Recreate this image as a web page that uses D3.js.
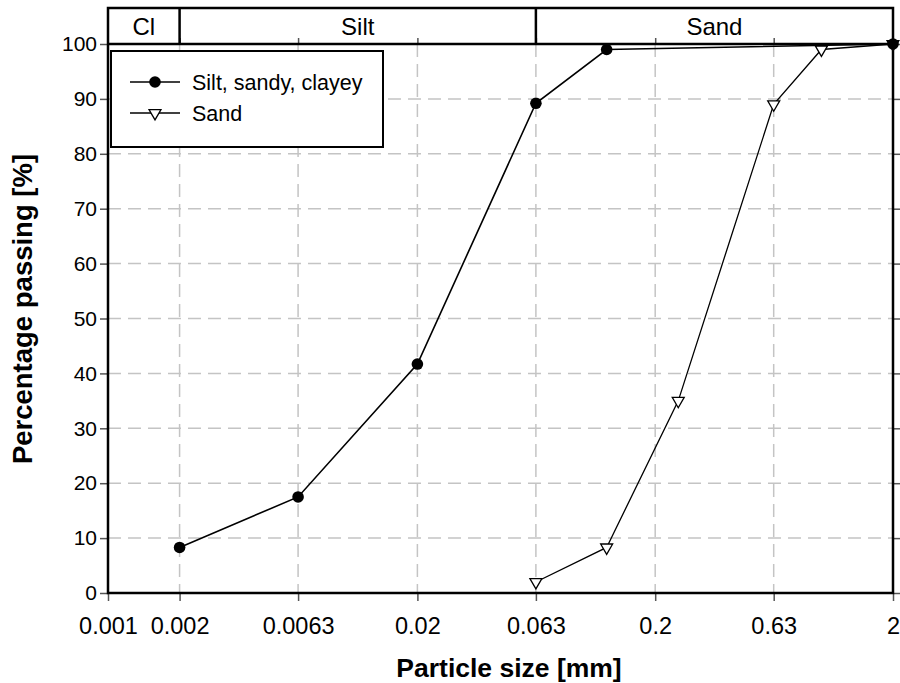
<!DOCTYPE html>
<html>
<head>
<meta charset="utf-8">
<script src="https://cdn.jsdelivr.net/npm/d3@7/dist/d3.min.js"></script>
<style>
  html, body { margin: 0; padding: 0; background: #fff; }
  svg { display: block; font-family: "Liberation Sans", Arial, sans-serif; }
</style>
</head>
<body>
<svg id="chart" width="900" height="683"></svg>
<script>
// Grain-size distribution curves (percentage passing vs particle size)
const xTicks = [0.001, 0.002, 0.0063, 0.02, 0.063, 0.2, 0.63, 2];
const xTickLabels = ["0.001", "0.002", "0.0063", "0.02", "0.063", "0.2", "0.63", "2"];
const yTicks = [0, 10, 20, 30, 40, 50, 60, 70, 80, 90, 100];

const siltSizes = [0.002, 0.0063, 0.02, 0.063, 0.125, 2];
const siltPassing = [8.3, 17.5, 41.7, 89.2, 99, 100];

const sandSizes = [0.063, 0.125, 0.25, 0.63, 1.0, 2];
const sandPassing = [2, 8.3, 35, 89, 99, 100];

// Soil fraction bands shown above the plot
const bandNames = ["Cl", "Silt", "Sand"];
const bandBounds = [0.001, 0.002, 0.063, 2];

const seriesNames = ["Silt, sandy, clayey", "Sand"];

const svg = d3.select("#chart");
const pL = 108, pR = 893, pT = 44, pB = 593, bandTop = 8;

const x = d3.scaleLog().domain([0.001, 2]).range([pL, pR]);
const y = d3.scaleLinear().domain([0, 100]).range([pB, pT]);

// Grid
const grid = svg.append("g").attr("stroke", "#c4c4c4").attr("stroke-width", 1.5)
  .attr("stroke-dasharray", "13,7");
grid.selectAll("line.h").data(yTicks.filter(d => d > 0 && d < 100)).join("line")
  .attr("x1", pL).attr("x2", pR).attr("y1", d => y(d)).attr("y2", d => y(d));
grid.selectAll("line.v").data(xTicks.slice(1, -1)).join("line")
  .attr("x1", d => x(d)).attr("x2", d => x(d)).attr("y1", pT).attr("y2", pB);

// Axes
const axisBottom = d3.axisBottom(x).tickValues(xTicks).tickFormat((d, i) => xTickLabels[i])
  .tickSizeInner(8).tickSizeOuter(0).tickPadding(16);
const gx = svg.append("g").attr("transform", `translate(0,${pB})`).call(axisBottom);
gx.select(".domain").remove();
gx.selectAll(".tick line").attr("stroke", "#555").attr("stroke-width", 1.5);
gx.selectAll(".tick text").attr("font-size", 23.5).attr("fill", "#000")
  .attr("font-family", "Liberation Sans, Arial, sans-serif");

const axisLeft = d3.axisLeft(y).tickValues(yTicks).tickSizeInner(8).tickSizeOuter(0).tickPadding(3);
const gy = svg.append("g").attr("transform", `translate(${pL},0)`).call(axisLeft);
gy.select(".domain").remove();
gy.selectAll(".tick line").attr("stroke", "#555").attr("stroke-width", 1.5);
gy.selectAll(".tick text").attr("font-size", 21).attr("fill", "#000")
  .attr("font-family", "Liberation Sans, Arial, sans-serif");

const axisRight = d3.axisRight(y).tickValues(yTicks).tickSizeInner(7).tickSizeOuter(0).tickFormat("");
const gr = svg.append("g").attr("transform", `translate(${pR},0)`).call(axisRight);
gr.select(".domain").remove();
gr.selectAll(".tick line").attr("stroke", "#555").attr("stroke-width", 1.5);

// Inner ticks on the top edge of the plot
const axisTop = d3.axisTop(x).tickValues(xTicks.slice(1, -1)).tickSizeInner(6).tickSizeOuter(0).tickFormat("");
const gt = svg.append("g").attr("transform", `translate(0,${pT})`).call(axisTop);
gt.select(".domain").remove();
gt.selectAll(".tick line").attr("stroke", "#555").attr("stroke-width", 1.5);

// Frame
svg.append("path")
  .attr("d", `M${pL},${bandTop}V${pB}H${pR}V${bandTop}Z M${pL},${pT}H${pR}`)
  .attr("fill", "none").attr("stroke", "#000").attr("stroke-width", 2.5);

// Fraction band
const bands = bandNames.map((n, i) => ({ name: n, x0: bandBounds[i], x1: bandBounds[i + 1] }));
svg.selectAll("line.div").data(bandBounds.slice(1, -1)).join("line")
  .attr("x1", d => x(d)).attr("x2", d => x(d)).attr("y1", bandTop).attr("y2", pT)
  .attr("stroke", "#000").attr("stroke-width", 2.5);
svg.selectAll("text.band").data(bands).join("text")
  .attr("x", d => (x(d.x0) + x(d.x1)) / 2).attr("y", (bandTop + pT) / 2 + 9)
  .attr("text-anchor", "middle").attr("font-size", 24).text(d => d.name);

// Curves
const line = d3.line().x(d => x(d[0])).y(d => y(d[1]));
const silt = siltSizes.map((s, i) => [s, siltPassing[i]]);
const sand = sandSizes.map((s, i) => [s, sandPassing[i]]);

svg.append("path").datum(silt).attr("d", line).attr("fill", "none")
  .attr("stroke", "#000").attr("stroke-width", 1.6);
svg.append("path").datum(sand).attr("d", line).attr("fill", "none")
  .attr("stroke", "#000").attr("stroke-width", 1.3);

const tri = d3.symbol().type(d3.symbolTriangle).size(62);
svg.selectAll("path.sand").data(sand).join("path")
  .attr("d", tri).attr("transform", d => `translate(${x(d[0])},${y(d[1])}) rotate(180)`)
  .attr("fill", "#fff").attr("stroke", "#000").attr("stroke-width", 1.3);
svg.selectAll("circle.silt").data(silt).join("circle")
  .attr("cx", d => x(d[0])).attr("cy", d => y(d[1])).attr("r", 5.8).attr("fill", "#000");

// Legend
const lg = svg.append("g");
lg.append("rect").attr("x", 111).attr("y", 51).attr("width", 272).attr("height", 96)
  .attr("fill", "#fff").attr("stroke", "#000").attr("stroke-width", 2);
const rows = [82, 113];
seriesNames.forEach((name, i) => {
  lg.append("line").attr("x1", 130).attr("x2", 180).attr("y1", rows[i]).attr("y2", rows[i])
    .attr("stroke", "#000").attr("stroke-width", i === 0 ? 1.6 : 1.3);
  if (i === 0) {
    lg.append("circle").attr("cx", 155).attr("cy", rows[i]).attr("r", 5.8).attr("fill", "#000");
  } else {
    lg.append("path").attr("d", tri).attr("transform", `translate(155,${rows[i]}) rotate(180)`)
      .attr("fill", "#fff").attr("stroke", "#000").attr("stroke-width", 1.3);
  }
  lg.append("text").attr("x", 192).attr("y", rows[i] + 7.5).attr("font-size", 21.5).text(name);
});

// Axis titles
svg.append("text").attr("x", 509).attr("y", 677).attr("text-anchor", "middle")
  .attr("font-size", 26.5).attr("font-weight", "bold").text("Particle size [mm]");
svg.append("text").attr("transform", "translate(32,309) rotate(-90)").attr("text-anchor", "middle")
  .attr("font-size", 27.5).attr("font-weight", "bold").text("Percentage passing [%]");
</script>
</body>
</html>
